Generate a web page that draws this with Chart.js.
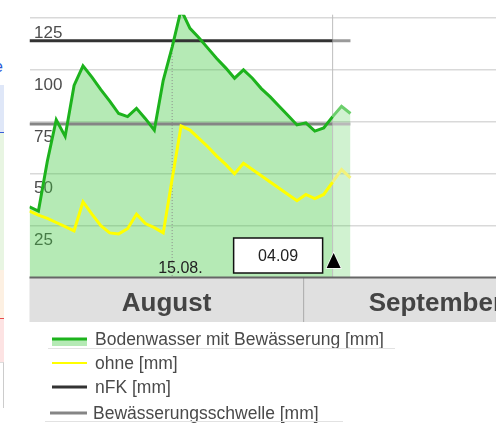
<!DOCTYPE html>
<html>
<head>
<meta charset="utf-8">
<script src="https://cdn.jsdelivr.net/npm/chart.js@4.4.1/dist/chart.umd.min.js"></script>
<style>
  html, body { margin: 0; padding: 0; background: #fff; overflow: hidden; width: 496px; height: 423px; }
  #wrap { position: absolute; left: 0; top: 0; }
  .strip { position: absolute; left: 0; width: 4px; }
  .cut { position: absolute; left: -6px; top: 58px; font: 16px "Liberation Sans", Arial, sans-serif; color: #2a5bd7; }
</style>
</head>
<body>
<!-- Rest der Nachbarspalte links -->
<span class="cut">e</span>
<div class="strip" style="top:85px;height:47px;background:#dfe7f8;border-bottom:1px solid #3a5fd9"></div>
<div class="strip" style="top:133px;height:137px;background:#e8f5e2"></div>
<div class="strip" style="top:270px;height:48px;background:#fdf0e2"></div>
<div class="strip" style="top:318px;height:44px;background:#fde3e3;border-top:1px solid #e84b4b"></div>
<div class="strip" style="top:362px;height:45px;border-top:1px solid #ddd;border-right:1px solid #ccc;width:3px"></div>

<div id="wrap"><canvas id="bodenwasser-chart" width="568" height="423"></canvas></div>

<script>
// Tage 30.07. bis 04.09.
const days = ['30.07', '31.07', '01.08', '02.08', '03.08', '04.08', '05.08', '06.08', '07.08', '08.08',
              '09.08', '10.08', '11.08', '12.08', '13.08', '14.08', '15.08', '16.08', '17.08', '18.08',
              '19.08', '20.08', '21.08', '22.08', '23.08', '24.08', '25.08', '26.08', '27.08', '28.08',
              '29.08', '30.08', '31.08', '01.09', '02.09', '03.09', '04.09'];
const mitBewaesserung = [34, 32, 56, 76, 68, 92.5, 102, 96.5, 90.5, 85,
                         79, 77.5, 81.5, 76.5, 71, 95, 111, 129, 120, 115.5,
                         110.5, 105.5, 101, 96, 100, 96, 91, 87, 82.5, 78,
                         73.5, 74.5, 70.5, 72, 77.5, 82.5, 79];
const ohne = [32, 30, 28.5, 26.5, 24.5, 22.5, 36.5, 30.5, 25, 21.5,
              21, 23.5, 30.5, 26, 24, 21.5, 47.5, 73, 71, 67,
              63, 58.5, 54.5, 50, 55, 52, 49, 46, 43, 40,
              37, 40, 38, 40, 46, 52, 48];
const nfk = 114;
const schwelle = 74;
const seriesNames = ['Bodenwasser mit Bewässerung [mm]', 'ohne [mm]', 'nFK [mm]', 'Bewässerungsschwelle [mm]'];
const months = ['August', 'September'];
const monthSplit = 30.75;     // Grenze der Monatsleiste (in Tagen)
const markedDay = '15.08';
const todayDay = '02.09';     // ab hier Prognose
const selectedDay = '04.09';

const todayIdx = days.indexOf(todayDay);
const pts = arr => arr.map((v, i) => ({ x: i, y: v }));
const flat = v => days.map((d, i) => ({ x: i, y: v }));
// Prognose heller zeichnen
const fc = (normal, light) => c => (c.p0.parsed.x >= todayIdx ? light : normal);

const FONT = '"Liberation Sans", Arial, sans-serif';

const overlay = {
    id: 'overlay',
    beforeDatasetsDraw(chart) {
        const { ctx, chartArea: a, scales: { x } } = chart;
        const tx = x.getPixelForValue(todayIdx);
        ctx.save();
        ctx.strokeStyle = '#bdbdbd';
        ctx.lineWidth = 1;
        ctx.beginPath(); ctx.moveTo(tx, a.top); ctx.lineTo(tx, a.bottom); ctx.stroke();

        // gepunktete Linie 15.08.
        const mi = days.indexOf(markedDay);
        const mx = x.getPixelForValue(mi);
        const gy = chart.getDatasetMeta(0).data[mi].y;
        ctx.strokeStyle = '#8a8a8a';
        ctx.setLineDash([1, 2]);
        ctx.beginPath(); ctx.moveTo(mx, gy + 6); ctx.lineTo(mx, a.bottom); ctx.stroke();
        ctx.restore();
    },
    afterDatasetsDraw(chart) {
        const { ctx, chartArea: a, scales: { x } } = chart;
        ctx.save();
        const mx = x.getPixelForValue(days.indexOf(markedDay));
        ctx.font = '16px ' + FONT;
        ctx.fillStyle = '#222';
        ctx.textBaseline = 'alphabetic';
        ctx.textAlign = 'left';
        ctx.fillText(markedDay + '.', mx - 14, 273);

        // Datumsbox + Pfeil
        const tx = x.getPixelForValue(todayIdx);
        const bw = 89, bh = 35, br = tx - 10, bt = 238;
        ctx.fillStyle = '#fff';
        ctx.fillRect(br - bw, bt, bw, bh);
        ctx.strokeStyle = '#111';
        ctx.lineWidth = 1.5;
        ctx.strokeRect(br - bw, bt, bw, bh);
        ctx.fillStyle = '#222';
        ctx.textAlign = 'center';
        ctx.fillText(selectedDay, br - bw / 2, 261);

        ctx.beginPath();
        ctx.moveTo(tx + 1, 253); ctx.lineTo(tx + 8, 268); ctx.lineTo(tx - 6, 268); ctx.closePath();
        ctx.fillStyle = '#000';
        ctx.strokeStyle = '#fff';
        ctx.lineWidth = 1.5;
        ctx.stroke();
        ctx.fill();
        ctx.restore();
    },
    afterDraw(chart) {
        const { ctx, chartArea: a, scales: { x } } = chart;
        const ds = chart.data.datasets;
        ctx.save();
        // Monatsleiste
        const top = a.bottom, h = 44.5;
        const sx = x.getPixelForValue(monthSplit);
        ctx.fillStyle = '#e0e0e0';
        ctx.fillRect(a.left, top, a.right - a.left, h);
        ctx.strokeStyle = '#aaa';
        ctx.lineWidth = 1;
        ctx.beginPath(); ctx.moveTo(sx, top); ctx.lineTo(sx, top + h); ctx.stroke();
        ctx.strokeStyle = '#666';
        ctx.lineWidth = 2;
        ctx.beginPath(); ctx.moveTo(a.left, top); ctx.lineTo(a.right, top); ctx.stroke();
        ctx.fillStyle = '#444';
        ctx.font = 'bold 26px ' + FONT;
        ctx.textAlign = 'center';
        ctx.fillText(months[0], (a.left + sx) / 2, top + 33);
        ctx.fillText(months[1], (sx + a.right) / 2, top + 33);

        // Legende
        const rows = [345, 369, 393, 419];
        ctx.font = '17.5px ' + FONT;
        ctx.textAlign = 'left';
        rows.forEach((by, i) => {
            const d = ds[i];
            const ly = by - 6;
            if (i === 0) {
                ctx.fillStyle = d.backgroundColor;
                ctx.fillRect(52, ly - 1, 35, 8);
            }
            ctx.strokeStyle = d.borderColor;
            ctx.lineWidth = i === 1 ? 2 : 3;
            ctx.beginPath(); ctx.moveTo(i === 3 ? 50 : 52, ly); ctx.lineTo(87, ly); ctx.stroke();
            ctx.fillStyle = '#4a4a4a';
            ctx.fillText(seriesNames[i], i === 3 ? 93 : 95, by);
        });
        ctx.strokeStyle = '#e2e2e2';
        ctx.lineWidth = 1;
        ctx.beginPath(); ctx.moveTo(48, 348.5); ctx.lineTo(395, 348.5); ctx.stroke();
        ctx.beginPath(); ctx.moveTo(45, 421.5); ctx.lineTo(343, 421.5); ctx.stroke();
        ctx.restore();
    }
};

const yRange = { min: 0, max: 126.6 };

new Chart(document.getElementById('bodenwasser-chart'), {
    type: 'line',
    data: {
        datasets: [{
            label: seriesNames[0],
            data: pts(mitBewaesserung),
            borderColor: '#1db31d',
            backgroundColor: 'rgba(60, 200, 60, 0.38)',
            borderWidth: 3,
            fill: 'origin',
            segment: {
                borderColor: fc('#1db31d', '#6ccf6c'),
                backgroundColor: fc('rgba(60, 200, 60, 0.38)', 'rgba(60, 200, 60, 0.24)')
            }
        }, {
            label: seriesNames[1],
            data: pts(ohne),
            borderColor: '#ffff00',
            borderWidth: 3,
            fill: false,
            segment: { borderColor: fc('#ffff00', '#f2f27a') }
        }, {
            label: seriesNames[2],
            data: flat(nfk),
            borderColor: '#333333',
            borderWidth: 3,
            fill: false,
            segment: { borderColor: fc('#333333', '#9a9a9a') }
        }, {
            label: seriesNames[3],
            data: flat(schwelle),
            borderColor: '#858585',
            borderWidth: 3,
            fill: false,
            segment: { borderColor: fc('#858585', '#b9b9b9') }
        }]
    },
    options: {
        responsive: false,
        animation: false,
        elements: { point: { radius: 0 }, line: { tension: 0 } },
        layout: { padding: { left: 29.5, top: 11.7, right: 0, bottom: 145.5 } },
        plugins: {
            legend: { display: false },
            tooltip: { enabled: false },
            filler: { drawTime: 'beforeDatasetsDraw' }
        },
        scales: {
            x: { type: 'linear', min: 0, max: 60.4, display: false },
            y: {
                ...yRange,
                afterFit: s => { s.width = 0; },
                border: { display: false },
                grid: { color: '#d9d9d9', lineWidth: 1.5, drawTicks: false },
                ticks: { stepSize: 25, includeBounds: false, display: false }
            },
            yLab: {
                ...yRange,
                position: 'left',
                z: 1,
                afterFit: s => { s.width = 0; },
                border: { display: false },
                grid: { display: false },
                ticks: {
                    stepSize: 25,
                    includeBounds: false,
                    mirror: true,
                    padding: 4.5,
                    labelOffset: 15,
                    color: '#4d4d4d',
                    font: { family: FONT, size: 17 },
                    textStrokeColor: '#fff',
                    textStrokeWidth: 4,
                    callback: v => (v > 0 ? v : '')
                }
            }
        }
    },
    plugins: [overlay]
});
</script>
</body>
</html>
